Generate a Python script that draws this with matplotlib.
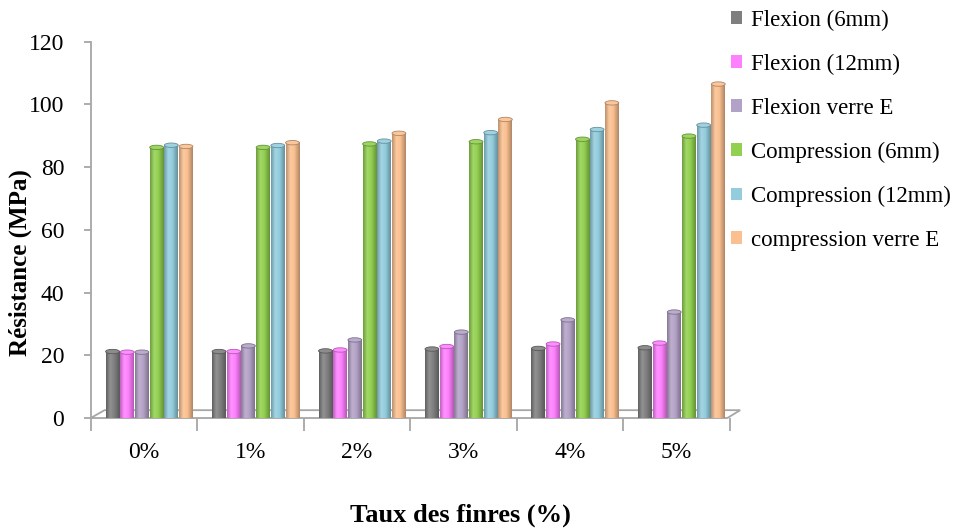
import numpy as np
import matplotlib
matplotlib.use("Agg")
import matplotlib.pyplot as plt
from matplotlib.patches import Polygon, Ellipse, Patch
from matplotlib.colors import LinearSegmentedColormap, to_rgb

plt.rcParams['font.family'] = ['Liberation Serif', 'DejaVu Serif']

categories = ['0%', '1%', '2%', '3%', '4%', '5%']
series_names = ['Flexion (6mm)', 'Flexion (12mm)', 'Flexion verre E',
                'Compression (6mm)', 'Compression (12mm)', 'compression verre E']
flexion_6mm = [21.2, 21.2, 21.4, 22, 22.2, 22.4]
flexion_12mm = [21, 21.2, 21.7, 22.8, 23.6, 23.9]
flexion_verre = [21, 23, 24.9, 27.4, 31.3, 33.8]
compression_6mm = [86.3, 86.3, 87.4, 88.1, 88.9, 89.9]
compression_12mm = [87, 86.9, 88.3, 91, 92, 93.4]
compression_verre = [86.6, 87.8, 90.8, 95.2, 100.5, 106.5]
colors = ['#7f7f7f', '#ff80ff', '#b3a2c7', '#92d050', '#93cddd', '#fac090']

series = [flexion_6mm, flexion_12mm, flexion_verre,
          compression_6mm, compression_12mm, compression_verre]


def mix(c, other, t):
    c = np.array(to_rgb(c))
    return tuple(c * (1 - t) + np.array(other) * t)


fig = plt.figure(figsize=(9.65, 5.28), dpi=100)
ax = fig.add_axes([0.094, 0.2083, 0.673, 0.7127])

x = np.arange(len(categories))
step = 0.138
width = 0.13
grad = np.linspace(0, 1, 64).reshape(1, -1)
for i, vals in enumerate(series):
    base = colors[i]
    cmap = LinearSegmentedColormap.from_list(
        'cyl%d' % i,
        [(0.0, mix(base, (0, 0, 0), 0.25)), (0.3, mix(base, (1, 1, 1), 0.15)),
         (0.6, to_rgb(base)), (1.0, mix(base, (0, 0, 0), 0.3))])
    pos = x + 0.05 + (i - 2.5) * step
    for p, v in zip(pos, vals):
        ax.imshow(grad, extent=[p - width / 2, p + width / 2, 0, v], aspect='auto',
                  cmap=cmap, zorder=3, interpolation='bilinear')
        ax.add_patch(Ellipse((p, v), width, 1.4, facecolor=mix(base, (1, 1, 1), 0.1),
                             edgecolor=mix(base, (0, 0, 0), 0.3), linewidth=0.6, zorder=4))

ax.set_xlim(-0.5, 5.6)
ax.set_ylim(0, 120)

# floor of the 3D look
floor = Polygon([[-0.5, 0], [-0.37, 2.5], [5.6, 2.5], [5.48, 0]], closed=True,
                facecolor='white', edgecolor='#a6a6a6', linewidth=1.3, zorder=1,
                clip_on=False)
ax.add_patch(floor)

for s in ['top', 'right', 'bottom']:
    ax.spines[s].set_visible(False)
ax.spines['left'].set_color('#a6a6a6')
ax.spines['left'].set_linewidth(1.3)

ax.set_yticks(np.arange(0, 121, 20))
ax.tick_params(axis='y', colors='#a6a6a6', labelcolor='black', labelsize=17,
               length=5, width=1.3, pad=14)
ax.set_xticks(x)
ax.set_xticklabels(categories)
ax.tick_params(axis='x', length=0, labelsize=17, pad=17)
ax.set_xticks(np.arange(-0.5, 5.6, 1.0), minor=True)
ax.tick_params(axis='x', which='minor', length=9, width=1.3, colors='#a6a6a6')

fig.text(0.021, 0.503, 'Résistance (MPa)', fontsize=18, fontweight='bold',
         rotation=90, ha='center', va='center')
fig.text(0.477, 0.025, 'Taux des finres (%)', fontsize=19, fontweight='bold',
         ha='center', va='center')

handles = [Patch(facecolor=c, edgecolor='none') for c in colors]
ax.legend(handles, series_names, loc='upper left', bbox_to_anchor=(0.758, 0.982),
          bbox_transform=fig.transFigure, frameon=False, fontsize=16.5,
          labelspacing=1.0, handlelength=0.45, handleheight=0.45,
          handletextpad=0.4, borderaxespad=0.0, borderpad=0.0)

fig.savefig('out.png', dpi=100)
